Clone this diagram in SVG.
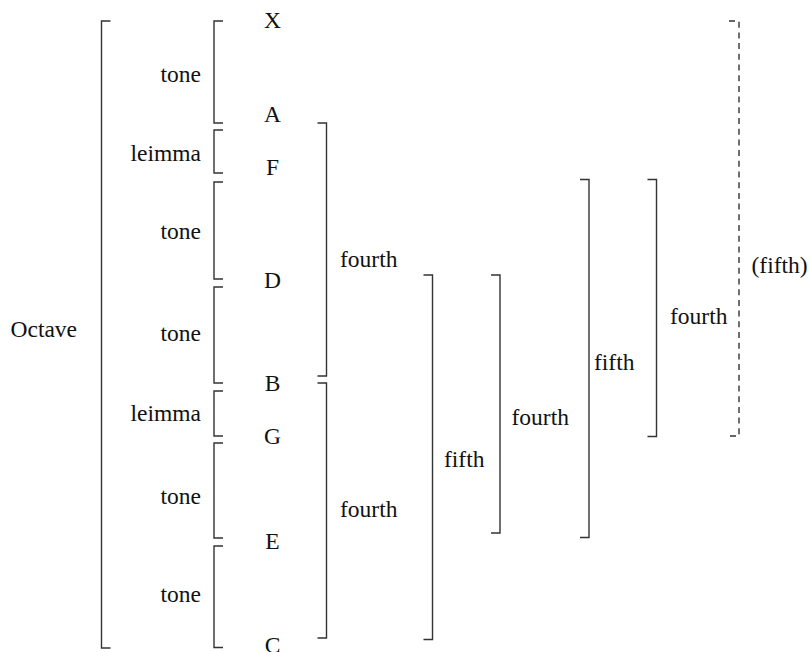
<svg xmlns="http://www.w3.org/2000/svg" width="810" height="652" viewBox="0 0 810 652">
<style>
text{font-family:"Liberation Serif","Times New Roman",serif;font-size:23.5px;fill:#111}
.n{text-anchor:middle}
.l{text-anchor:end}
.b{fill:none;stroke:#333;stroke-width:1.4}
.d{stroke-dasharray:6,4.7}
</style>
<rect width="810" height="652" fill="#fff"/>
<g id="connectors">
<path class="b" d="M110.5,21 H101.5 V648 H110.5"/>
<path class="b" d="M223,21 H214 V123 H223"/>
<path class="b" d="M223,130 H214 V173 H223"/>
<path class="b" d="M223,182 H214 V279 H223"/>
<path class="b" d="M223,287 H214 V383 H223"/>
<path class="b" d="M223,391 H214 V436 H223"/>
<path class="b" d="M223,443 H214 V538 H223"/>
<path class="b" d="M223,546 H214 V647.5 H223"/>
<path class="b" d="M317.5,123 H326.5 V376 H317.5"/>
<path class="b" d="M317.5,383 H326.5 V638 H317.5"/>
<path class="b" d="M423.5,275 H432.5 V639.5 H423.5"/>
<path class="b" d="M491,275 H500 V533 H491"/>
<path class="b" d="M580,179.5 H589 V537.5 H580"/>
<path class="b" d="M647.5,179.5 H656.5 V436.5 H647.5"/>
<path class="b d" d="M729,21 H739 V436 H729"/>
</g>
<g id="notes">
<g id="note-X"><text class="n" x="272.5" y="28">X</text></g>
<g id="note-A"><text class="n" x="272.5" y="122">A</text></g>
<g id="note-F"><text class="n" x="272.5" y="175">F</text></g>
<g id="note-D"><text class="n" x="272.5" y="288">D</text></g>
<g id="note-B"><text class="n" x="272.5" y="391">B</text></g>
<g id="note-G"><text class="n" x="272.5" y="444">G</text></g>
<g id="note-E"><text class="n" x="272.5" y="549">E</text></g>
<g id="note-C"><text class="n" x="272.5" y="653">C</text></g>
</g>
<g id="labels">
<g id="octave"><text x="10.5" y="337">Octave</text></g>
<g id="tone1"><text class="l" x="201" y="81.5">tone</text></g>
<g id="leimma1"><text class="l" x="201" y="161">leimma</text></g>
<g id="tone2"><text class="l" x="201" y="239">tone</text></g>
<g id="tone3"><text class="l" x="201" y="341">tone</text></g>
<g id="leimma2"><text class="l" x="201" y="421">leimma</text></g>
<g id="tone4"><text class="l" x="201" y="504">tone</text></g>
<g id="tone5"><text class="l" x="201" y="602">tone</text></g>
<g id="fourth-AB"><text x="340" y="267">fourth</text></g>
<g id="fourth-BC"><text x="340" y="517">fourth</text></g>
<g id="fifth-1"><text x="444" y="467">fifth</text></g>
<g id="fourth-2"><text x="511.5" y="425">fourth</text></g>
<g id="fifth-2"><text x="594" y="370">fifth</text></g>
<g id="fourth-3"><text x="670" y="324">fourth</text></g>
<g id="fifth-dashed"><text x="751.5" y="273">(fifth)</text></g>
</g>
</svg>
